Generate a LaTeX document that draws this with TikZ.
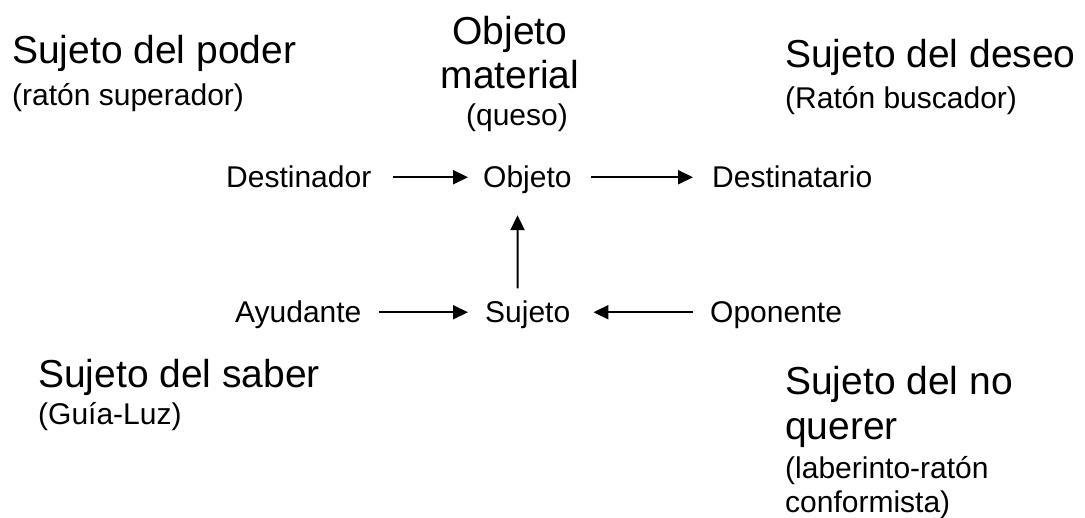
\documentclass[tikz,border=0pt]{standalone}
\usepackage{fontspec}
\setmainfont{Liberation Sans}
\usetikzlibrary{arrows.meta}
\begin{document}
\begin{tikzpicture}[x=1pt,y=-1pt,
  big/.style={font=\fontsize{39}{45}\selectfont, inner sep=0pt, anchor=base west},
  sml/.style={font=\fontsize{30}{35}\selectfont, inner sep=0pt, anchor=base west},
  actant/.style={font=\fontsize{30}{35}\selectfont, inner sep=0pt, anchor=base west, text height=21.5pt, text depth=0pt},
  arr/.style={line width=2pt, -{Triangle[length=15pt,width=14pt]}}]
\useasboundingbox (0,0) rectangle (1085,518);
% top left
\node[big] (poder) at (12,64) {Sujeto del poder};
\node[sml] (poders) at (12,106) {(ratón superador)};
% top centre
\node[big, anchor=base] (objt1) at (510,45) {Objeto};
\node[big, anchor=base] (objt2) at (510,89) {material};
\node[sml, anchor=base] (objts) at (517,126) {(queso)};
% top right
\node[big] (deseo) at (785,68) {Sujeto del deseo};
\node[sml] (deseos) at (785,109) {(Ratón buscador)};
% actants
\node[actant] (destinador) at (226,188) {Destinador};
\node[actant] (objeto) at (483,188) {Objeto};
\node[actant] (destinatario) at (712,188) {Destinatario};
\node[actant] (ayudante) at (235,323) {Ayudante};
\node[actant] (sujeto) at (485,323) {Sujeto};
\node[actant] (oponente) at (710,323) {Oponente};
% bottom left
\node[big] (saber) at (38,388) {Sujeto del saber};
\node[sml] (sabers) at (38,425) {(Guía-Luz)};
% bottom right
\node[big] (noq1) at (785,395) {Sujeto del no};
\node[big] (noq2) at (785,440) {querer};
\node[sml] (noqs1) at (785,479) {(laberinto-ratón};
\node[sml] (noqs2) at (785,512) {conformista)};
% connectors
\draw[arr, shorten <=22pt, shorten >=15pt] (destinador.east) -- (objeto.west);
\draw[arr, shorten <=19pt, shorten >=19pt] (objeto.east) -- (destinatario.west);
\draw[arr, shorten <=17pt, shorten >=17pt] (ayudante.east) -- (sujeto.west);
\draw[arr, shorten <=17pt, shorten >=23pt] (oponente.west) -- (sujeto.east);
\draw[arr, shorten <=13pt, shorten >=27pt] ([xshift=-10pt]sujeto.north) -- ([xshift=-10pt]objeto.south);
\end{tikzpicture}
\end{document}
